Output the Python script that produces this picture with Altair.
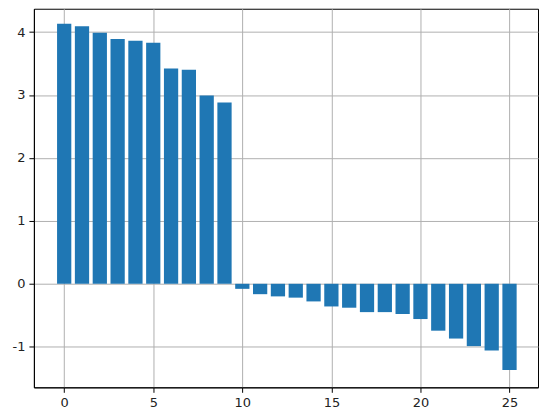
import altair as alt
import pandas as pd

idx = list(range(26))
values = [4.13, 4.09, 3.99, 3.89, 3.86, 3.83, 3.42, 3.40, 2.99, 2.88,
          -0.08, -0.165, -0.20, -0.22, -0.28, -0.36, -0.38, -0.45, -0.45, -0.48,
          -0.56, -0.745, -0.87, -0.99, -1.06, -1.37]
x_ticks = [0, 5, 10, 15, 20, 25]
y_ticks = [-1, 0, 1, 2, 3, 4]

df = pd.DataFrame({"i": idx, "v": values})

font = "DejaVu Sans"

chart = alt.Chart(df).transform_calculate(
    x0="datum.i - 0.4", x1="datum.i + 0.4", zero="0"
).mark_rect(color="#1f77b4").encode(
    x=alt.X("x0:Q", scale=alt.Scale(domain=[-1.7, 26.6], nice=False, zero=False),
            axis=alt.Axis(values=x_ticks, title=None, grid=True, gridColor="#b0b0b0",
                          gridWidth=1, domainColor="#000000", tickColor="#000000",
                          tickSize=5, labelFont=font, labelFontSize=13,
                          labelColor="#222222", labelPadding=4,
                          labelExpr="'' + datum.value")),
    x2="x1:Q",
    y=alt.Y("zero:Q", scale=alt.Scale(domain=[-1.645, 4.37], nice=False, zero=False),
            axis=alt.Axis(values=y_ticks, title=None, grid=True, gridColor="#b0b0b0",
                          gridWidth=1, domainColor="#000000", tickColor="#000000",
                          tickSize=5, labelFont=font, labelFontSize=13,
                          labelColor="#222222", labelPadding=4,
                          labelExpr="'' + datum.value")),
    y2="v:Q",
).properties(
    width=506, height=380,
    autosize=alt.AutoSizeParams(type="none"),
    padding={"left": 26, "top": 0, "right": 4, "bottom": 22},
).configure_view(stroke="#000000", strokeWidth=1)

chart.save("out.html", embed_options={"renderer": "svg", "actions": False})
